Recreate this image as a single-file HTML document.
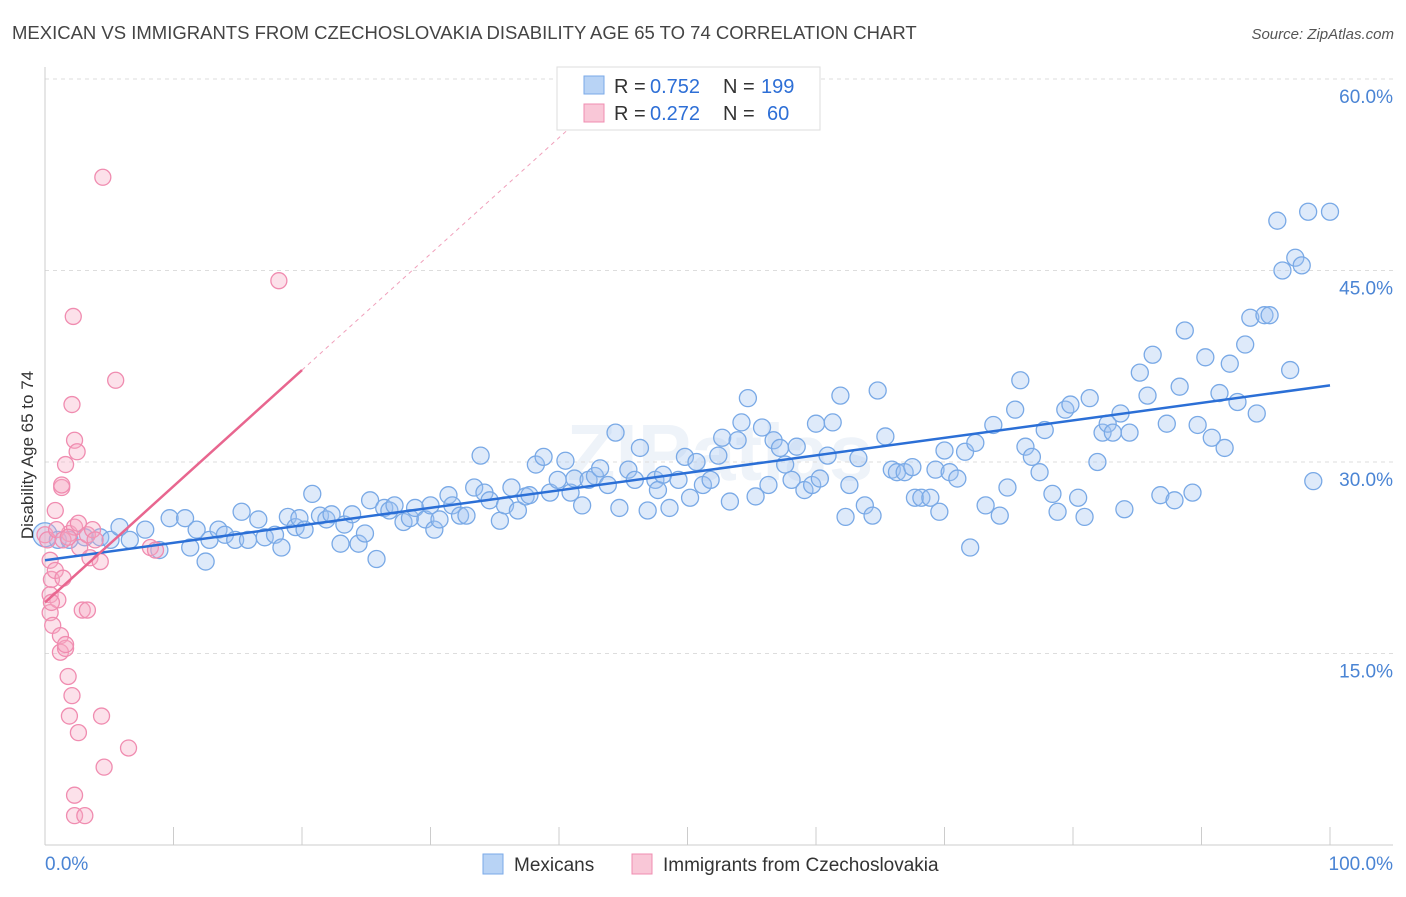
<!DOCTYPE html>
<html><head><meta charset="utf-8">
<style>
body{margin:0;background:#fff;font-family:"Liberation Sans",sans-serif;}
svg text{font-family:"Liberation Sans",sans-serif;}
</style></head>
<body>
<svg id="chart" width="1406" height="892" viewBox="0 0 1406 892" xmlns="http://www.w3.org/2000/svg">
<text x="12" y="39" font-size="18.5" fill="#444">MEXICAN VS IMMIGRANTS FROM CZECHOSLOVAKIA DISABILITY AGE 65 TO 74 CORRELATION CHART</text>
<text x="1394" y="39" font-size="15" fill="#555" text-anchor="end" font-style="italic">Source: ZipAtlas.com</text>
<text x="720" y="480" font-size="80" fill="#eef3f9" text-anchor="middle" font-weight="bold">ZIPatlas</text>
<g id="grid"></g>
<g id="axes"></g>
<g id="marks"></g>
<text transform="translate(33,455) rotate(-90)" font-size="17" fill="#333" text-anchor="middle">Disability Age 65 to 74</text>
<g>
<rect x="557" y="67" width="263" height="63" fill="#fff" stroke="#ddd"/>
<rect x="584" y="76" width="20" height="18" fill="#b8d3f5" stroke="#7aaae8"/>
<rect x="584" y="104" width="20" height="18" fill="#f9c7d7" stroke="#f08cb0"/>
<text x="614" y="93" font-size="20" fill="#333">R =</text>
<text x="650" y="93" font-size="20" fill="#2e6fd6">0.752</text>
<text x="723" y="93" font-size="20" fill="#333">N =</text>
<text x="761" y="93" font-size="20" fill="#2e6fd6">199</text>
<text x="614" y="120" font-size="20" fill="#333">R =</text>
<text x="650" y="120" font-size="20" fill="#2e6fd6">0.272</text>
<text x="723" y="120" font-size="20" fill="#333">N =</text>
<text x="767" y="120" font-size="20" fill="#2e6fd6">60</text>
</g>
<g>
<rect x="483" y="854" width="20" height="20" fill="#b8d3f5" stroke="#7aaae8"/>
<text x="514" y="871" font-size="19" fill="#333">Mexicans</text>
<rect x="632" y="854" width="20" height="20" fill="#f9c7d7" stroke="#f08cb0"/>
<text x="663" y="871" font-size="19" fill="#333">Immigrants from Czechoslovakia</text>
</g>
</svg>
<script>
const xTicks=[0,10,20,30,40,50,60,70,80,90,100];
const yTicks=[15,30,45,60];
const blueX=[0,1.0,1.9,3.1,4.3,5.1,5.8,6.6,7.8,8.9,9.7,10.9,11.3,11.8,12.5,12.8,13.5,14.0,14.8,15.3,15.8,16.6,17.1,17.9,18.4,18.9,19.5,19.8,20.2,20.8,21.4,21.9,22.3,23.0,23.3,23.9,24.4,24.9,25.3,25.8,26.4,26.8,27.2,27.9,28.4,28.8,29.6,30.0,30.3,30.7,31.4,31.7,32.3,32.8,33.4,33.9,34.2,34.6,35.4,35.8,36.3,36.8,37.4,37.7,38.2,38.8,39.3,39.9,40.5,40.9,41.2,41.8,42.3,42.8,43.2,43.8,44.4,44.7,45.4,45.9,46.3,46.9,47.5,47.7,48.1,48.6,49.3,49.8,50.2,50.7,51.2,51.8,52.4,52.7,53.3,53.9,54.2,54.7,55.3,55.8,56.3,56.7,57.2,57.6,58.1,58.5,59.1,59.7,60.0,60.3,60.9,61.3,61.9,62.3,62.6,63.3,63.8,64.4,64.8,65.4,65.9,66.3,66.9,67.5,67.7,68.2,68.9,69.3,69.6,70.0,70.4,71.0,71.6,72.0,72.4,73.2,73.8,74.3,74.9,75.5,75.9,76.3,76.8,77.4,77.8,78.4,78.8,79.4,79.8,80.4,80.9,81.3,81.9,82.3,82.7,83.1,83.7,84.0,84.4,85.2,85.8,86.2,86.8,87.3,87.9,88.3,88.7,89.3,89.7,90.3,90.8,91.4,91.8,92.2,92.8,93.4,93.8,94.3,94.9,95.3,95.9,96.3,96.9,97.3,97.8,98.3,98.7,100];
const blueY=[24.3,23.9,23.9,24.1,24.1,23.9,24.9,23.9,24.7,23.1,25.6,25.6,23.3,24.7,22.2,23.9,24.7,24.3,23.9,26.1,23.9,25.5,24.1,24.3,23.3,25.7,24.9,25.6,24.7,27.5,25.8,25.5,25.9,23.6,25.1,25.9,23.6,24.4,27.0,22.4,26.4,26.2,26.6,25.3,25.6,26.4,25.5,26.6,24.7,25.5,27.4,26.6,25.8,25.8,28.0,30.5,27.6,27.0,25.4,26.6,28.0,26.2,27.3,27.4,29.8,30.4,27.6,28.6,30.1,27.6,28.7,26.6,28.6,28.9,29.5,28.2,32.3,26.4,29.4,28.6,31.1,26.2,28.6,27.8,29.0,26.4,28.6,30.4,27.2,30.0,28.2,28.6,30.5,31.9,26.9,31.7,33.1,35.0,27.3,32.7,28.2,31.7,31.1,29.8,28.6,31.2,27.8,28.2,33.0,28.7,30.5,33.1,35.2,25.7,28.2,30.3,26.6,25.8,35.6,32.0,29.4,29.2,29.2,29.6,27.2,27.2,27.2,29.4,26.1,30.9,29.2,28.7,30.8,23.3,31.5,26.6,32.9,25.8,28.0,34.1,36.4,31.2,30.4,29.2,32.5,27.5,26.1,34.1,34.5,27.2,25.7,35.0,30.0,32.3,33.0,32.3,33.8,26.3,32.3,37.0,35.2,38.4,27.4,33.0,27.0,35.9,40.3,27.6,32.9,38.2,31.9,35.4,31.1,37.7,34.7,39.2,41.3,33.8,41.5,41.5,48.9,45.0,37.2,46.0,45.4,49.6,28.5,49.6];
const pinkX=[0,0.2,0.4,0.5,0.4,0.4,0.6,0.8,0.8,1.0,1.2,1.2,1.3,1.6,1.4,1.6,1.8,1.9,1.9,2.1,2.1,2.2,2.3,2.5,2.3,2.3,2.3,2.6,2.6,2.7,2.9,3.1,3.3,3.3,3.5,3.7,4.3,4.4,4.6,4.5,5.5,6.5,8.2,8.6,18.2,0.5,0.9,1.4,1.8,3.9,1.3,1.6];
const pinkY=[24.3,23.9,22.3,20.8,19.6,18.2,17.2,26.2,21.5,19.2,16.4,15.1,28.0,29.8,20.9,15.4,13.2,10.1,24.4,34.5,11.7,41.4,31.7,30.8,24.9,3.9,2.3,8.8,25.2,23.3,18.4,2.3,18.4,24.3,22.5,24.7,22.2,10.1,6.1,52.3,36.4,7.6,23.3,23.1,44.2,19.0,24.7,23.9,24.1,23.9,28.2,15.7];
const blueTrend=[22.3,36.0];
const pinkTrend=[19.0,37.2];
const NS='http://www.w3.org/2000/svg';
const xs=v=>45+v*12.85;
const ys=v=>845-v*12.767;
function mk(tag,attrs,parent){const e=document.createElementNS(NS,tag);for(const k in attrs)e.setAttribute(k,attrs[k]);parent.appendChild(e);return e;}
const grid=document.getElementById('grid'),axes=document.getElementById('axes'),marks=document.getElementById('marks');
yTicks.forEach(t=>{
 const l=mk('line',{x1:45,x2:1393,y1:ys(t),y2:ys(t),stroke:'#ddd','stroke-dasharray':'4,4'},grid);
 
 
 const tx=mk('text',{x:1393,y:ys(t)+24,'font-size':19,fill:'#4a84d4','text-anchor':'end'},axes);
 tx.textContent=t.toFixed(1)+'%';
 
 
});
const ax=mk('line',{x1:45,x2:1393,y1:845,y2:845,stroke:'#ccc'},axes);


const ay=mk('line',{x1:45,x2:45,y1:67,y2:845,stroke:'#ccc'},axes);


xTicks.forEach(t=>{
 const l=mk('line',{x1:xs(t),x2:xs(t),y1:827,y2:845,stroke:'#ccc'},axes);
 
 
});
[[0,'0.0%','start',45],[100,'100.0%','end',1393]].forEach(d=>{
 const tx=mk('text',{x:d[3],y:870,'font-size':19,fill:'#4a84d4','text-anchor':d[2]},axes);
 tx.textContent=d[1];
 
 
});
blueX.forEach((x,i)=>{
 const c=mk('circle',{cx:xs(x),cy:ys(blueY[i]),r:i===0?12:8.5,fill:'rgba(160,196,240,0.35)',stroke:'#79a9e6','stroke-width':1.3},marks);
 
 
});
pinkX.forEach((x,i)=>{
 const c=mk('circle',{cx:xs(x),cy:ys(pinkY[i]),r:8,fill:'rgba(245,170,195,0.35)',stroke:'#f08cb0','stroke-width':1.3},marks);
 
 
});
const bl=mk('line',{x1:xs(0),y1:ys(blueTrend[0]),x2:xs(100),y2:ys(blueTrend[1]),stroke:'#2b6fd6','stroke-width':2.5},marks);


const slope=(pinkTrend[1]-pinkTrend[0])/20;
const xEnd=(60-pinkTrend[0])/slope;
const pd=mk('line',{x1:xs(20),y1:ys(pinkTrend[1]),x2:xs(xEnd),y2:ys(60),stroke:'#f0a0bb','stroke-width':1,'stroke-dasharray':'4,4'},marks);


const pl=mk('line',{x1:xs(0),y1:ys(pinkTrend[0]),x2:xs(20),y2:ys(pinkTrend[1]),stroke:'#e8668f','stroke-width':2.5},marks);


const topLine=mk('line',{x1:45,x2:1393,y1:ys(60),y2:ys(60),stroke:'#ddd','stroke-dasharray':'4,4'},grid);


</script>
</body></html>
